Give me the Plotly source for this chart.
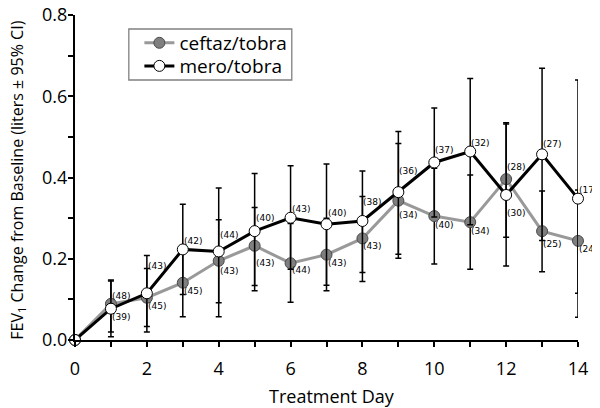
import plotly.graph_objects as go

days = list(range(15))
ceftaz = [0, 0.089, 0.104, 0.141, 0.195, 0.232, 0.189, 0.210, 0.250, 0.343, 0.305, 0.290, 0.396, 0.268, 0.244]
ceftaz_lo = [0, 0.020, 0.033, 0.057, 0.092, 0.134, 0.093, 0.121, 0.144, 0.201, 0.187, 0.174, 0.253, 0.168, 0.115]
ceftaz_hi = [0, 0.148, 0.176, 0.225, 0.296, 0.326, 0.287, 0.300, 0.353, 0.484, 0.423, 0.406, 0.535, 0.367, 0.369]
ceftaz_n = [None, 48, 45, 45, 43, 43, 44, 43, 43, 34, 40, 34, 28, 25, 24]

mero = [0, 0.077, 0.115, 0.223, 0.218, 0.268, 0.301, 0.285, 0.293, 0.364, 0.437, 0.464, 0.357, 0.457, 0.348]
mero_lo = [0, 0.008, 0.020, 0.112, 0.057, 0.121, 0.174, 0.135, 0.166, 0.211, 0.303, 0.284, 0.182, 0.245, 0.056]
mero_hi = [0, 0.145, 0.208, 0.334, 0.374, 0.410, 0.429, 0.433, 0.416, 0.513, 0.571, 0.644, 0.532, 0.669, 0.640]
mero_n = [None, 39, 43, 42, 44, 40, 43, 40, 38, 36, 37, 32, 30, 27, 17]

x_title = "Treatment Day"
y_title = "FEV<sub>1</sub> Change from Baseline (liters ± 95% CI)"

# label vertical offsets in pixels (style only)
ceftaz_dy = [0, 8, -8, -8, -10, -17, -7, -8, -8, -14, -9, -9, 12, -13, -8]
mero_dy = [0, -8, 27, 8, 16, 13, 9, 11, 19, 21, 12, 9, -18, 10, 9]

FONT = "Open Sans"

fig = go.Figure()

def add_series(name, y, lo, hi, line_color, line_width, fill, edge, legend):
    fig.add_trace(go.Scatter(
        x=days, y=y, name=name, mode="lines+markers", legend=legend,
        line=dict(color=line_color, width=line_width),
        marker=dict(size=11, color=fill, line=dict(color=edge, width=1)),
        error_y=dict(type="data", symmetric=False,
                     array=[h - v for h, v in zip(hi, y)],
                     arrayminus=[v - l for v, l in zip(y, lo)],
                     color="black", thickness=1.5, width=3),
        cliponaxis=False,
    ))

add_series("ceftaz/tobra", ceftaz, ceftaz_lo, ceftaz_hi, "#999999", 3, "#7f7f7f", "#4a4a4a", "legend")
add_series("mero/tobra", mero, mero_lo, mero_hi, "black", 3, "white", "black", "legend2")

ann = []
for yv, ns, dys in [(ceftaz, ceftaz_n, ceftaz_dy), (mero, mero_n, mero_dy)]:
    for d, v, n, dy in zip(days, yv, ns, dys):
        if n is None:
            continue
        ann.append(dict(x=d, y=v, text=f"({n})", showarrow=False,
                        xanchor="left", yanchor="middle", xshift=-1, yshift=dy,
                        font=dict(family="DejaVu Sans", size=9, color="black")))

# axis titles
ann.append(dict(xref="paper", yref="paper", x=0.511, y=-0.172, text=x_title, showarrow=False,
                xanchor="center", yanchor="middle", font=dict(family=FONT, size=18, color="black")))
ann.append(dict(xref="paper", yref="paper", x=-0.116, y=0.492, text=y_title, showarrow=False,
                textangle=-90, xanchor="center", yanchor="middle",
                font=dict(family=FONT, size=16, color="black")))

leg_common = dict(xanchor="left", yanchor="middle", bgcolor="rgba(0,0,0,0)",
                  borderwidth=0, font=dict(family=FONT, size=19), itemwidth=30)

# page body has an 8px margin, so the figure is 592x400 drawn at (8, 8)
fig.update_layout(
    width=592, height=400,
    margin=dict(l=67, r=22, t=7, b=68),
    paper_bgcolor="white", plot_bgcolor="white",
    font=dict(family=FONT, color="black"),
    showlegend=True,
    legend=dict(x=0.128, y=0.914, **leg_common),
    legend2=dict(x=0.128, y=0.843, **leg_common),
    annotations=ann,
    shapes=[dict(type="rect", xref="paper", yref="paper",
                 x0=0.107, x1=0.431, y0=0.80, y1=0.957,
                 line=dict(color="#808080", width=1.3), layer="above")],
)
fig.update_xaxes(range=[0, 14], dtick=2, tick0=0, showgrid=False, zeroline=False, automargin=False,
                 showline=True, linecolor="black", linewidth=2,
                 ticks="outside", ticklen=5, tickwidth=1.5, tickcolor="black",
                 minor=dict(dtick=1, ticks="outside", ticklen=5, tickwidth=1.5, tickcolor="black"),
                 tickfont=dict(family=FONT, size=18), ticklabelstandoff=6, ticklabeloverflow="allow")
fig.update_yaxes(range=[0, 0.8], dtick=0.2, tick0=0, tickformat=".1f", showgrid=False, zeroline=False,
                 automargin=False,
                 showline=True, linecolor="black", linewidth=2,
                 ticks="outside", ticklen=5, tickwidth=1.5, tickcolor="black",
                 minor=dict(dtick=0.1, ticks="outside", ticklen=5, tickwidth=1.5, tickcolor="black"),
                 tickfont=dict(family=FONT, size=18), ticklabelstandoff=-3, ticklabeloverflow="allow")

fig.write_html("out.html")
